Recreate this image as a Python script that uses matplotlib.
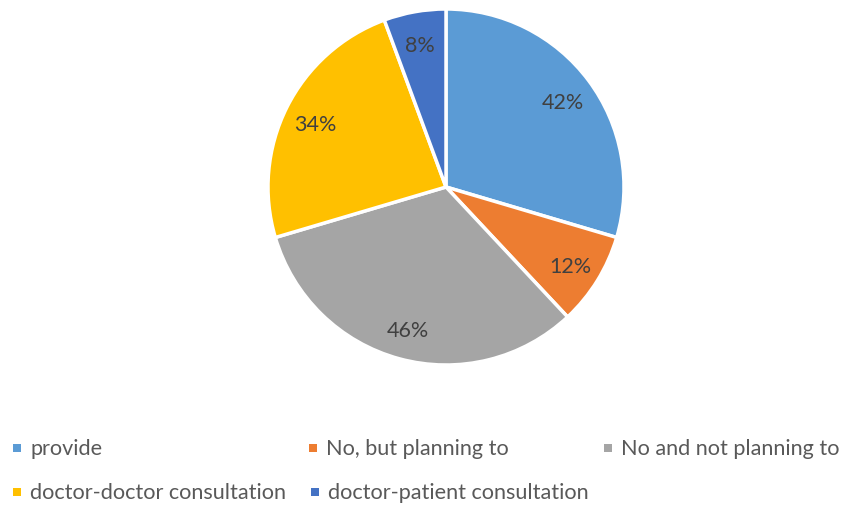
import matplotlib
matplotlib.use("Agg")
import matplotlib.pyplot as plt
from matplotlib.patches import Rectangle

categories = ["provide", "No, but planning to", "No and not planning to",
              "doctor-doctor consultation", "doctor-patient consultation"]
values = [42, 12, 46, 34, 8]
labels = ["42%", "12%", "46%", "34%", "8%"]
colors = ["#5B9BD5", "#ED7D31", "#A5A5A5", "#FFC000", "#4472C4"]

plt.rcParams['font.family'] = ['Lato', 'DejaVu Sans']

W, H = 847, 506
fig = plt.figure(figsize=(W / 100, H / 100), dpi=100)
cx, cy, r = 446, 188, 178
ax = fig.add_axes([(cx - r) / W, (H - cy - r) / H, 2 * r / W, 2 * r / H])
wedges, texts = ax.pie(values, labels=labels, colors=colors, startangle=90,
                       counterclock=False, labeldistance=0.82,
                       wedgeprops=dict(edgecolor="white", linewidth=2.5))
for t in texts:
    t.set_ha("center")
    t.set_va("center_baseline")
    t.set_fontsize(15.5)
    t.set_color("#404040")
ax.set_aspect("equal")
ax.set_xlim(-1, 1)
ax.set_ylim(-1, 1)

# legend (manual flow layout like the source)
leg_pos = [(13, 449), (309, 449), (604, 449), (13, 493), (311, 493)]
for (x, y), name, col in zip(leg_pos, categories, colors):
    s = 8
    fig.patches.append(Rectangle((x / W, (H - y - s / 2) / H), s / W, s / H,
                                 transform=fig.transFigure, facecolor=col,
                                 edgecolor="none"))
    fig.text((x + 17) / W, (H - y) / H, name, ha="left", va="center",
             fontsize=15.6, color="#595959")

fig.savefig("out.png", dpi=100)
